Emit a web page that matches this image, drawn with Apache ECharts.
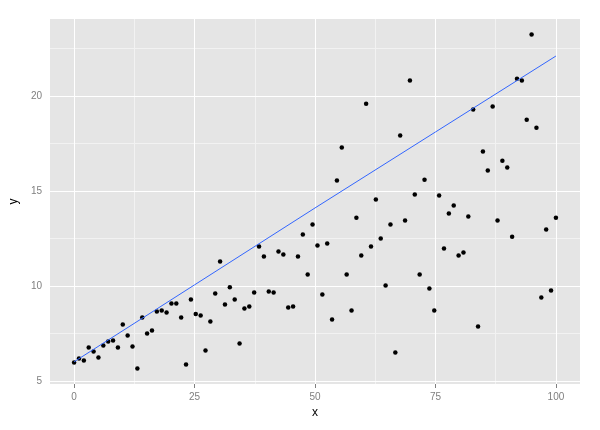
<!DOCTYPE html>
<html>
<head>
<meta charset="utf-8">
<script src="https://cdn.jsdelivr.net/npm/echarts@6/dist/echarts.min.js"></script>
<style>
html,body{margin:0;padding:0;background:#fff;}
#chart{width:600px;height:430px;}
</style>
</head>
<body>
<div id="chart"></div>
<script>
// ---- data ----
const xValues = [0, 1.01, 2.02, 3.03, 4.04, 5.05, 6.06, 7.07, 8.08, 9.09,
  10.10, 11.11, 12.12, 13.13, 14.14, 15.15, 16.16, 17.17, 18.18, 19.19,
  20.20, 21.21, 22.22, 23.23, 24.24, 25.25, 26.26, 27.27, 28.28, 29.29,
  30.30, 31.31, 32.32, 33.33, 34.34, 35.35, 36.36, 37.37, 38.38, 39.39,
  40.40, 41.41, 42.42, 43.43, 44.44, 45.45, 46.46, 47.47, 48.48, 49.49,
  50.51, 51.52, 52.53, 53.54, 54.55, 55.56, 56.57, 57.58, 58.59, 59.60,
  60.61, 61.62, 62.63, 63.64, 64.65, 65.66, 66.67, 67.68, 68.69, 69.70,
  70.71, 71.72, 72.73, 73.74, 74.75, 75.76, 76.77, 77.78, 78.79, 79.80,
  80.81, 81.82, 82.83, 83.84, 84.85, 85.86, 86.87, 87.88, 88.89, 89.90,
  90.91, 91.92, 92.93, 93.94, 94.95, 95.96, 96.97, 97.98, 98.99, 100];
const yValues = [5.96, 6.17, 6.07, 6.75, 6.54, 6.23, 6.86, 7.07, 7.12, 6.75,
  7.96, 7.38, 6.81, 5.65, 8.33, 7.49, 7.65, 8.65, 8.70, 8.59,
  9.07, 9.07, 8.33, 5.86, 9.28, 8.51, 8.44, 6.59, 8.12, 9.59,
  11.28, 9.02, 9.93, 9.28, 6.96, 8.81, 8.91, 9.65, 12.07, 11.54,
  9.70, 9.65, 11.81, 11.65, 8.86, 8.91, 11.54, 12.70, 10.59, 13.23,
  12.12, 9.54, 12.23, 8.23, 15.54, 17.28, 10.59, 8.70, 13.59, 11.59,
  19.59, 12.07, 14.54, 12.49, 10.02, 13.23, 6.49, 17.91, 13.44, 20.81,
  14.81, 10.59, 15.59, 9.86, 8.70, 14.75, 11.96, 13.81, 14.23, 11.59,
  11.75, 13.65, 19.28, 7.86, 17.07, 16.07, 19.44, 13.44, 16.59, 16.23,
  12.59, 20.91, 20.81, 18.75, 23.23, 18.33, 9.38, 12.96, 9.75, 13.59];
const lineX = [0, 25, 50, 75, 100];
const lineY = [6.0, 10.05, 14.1, 18.1, 22.1];
const xTicks = [0, 25, 50, 75, 100];
const xMinor = [12.5, 37.5, 62.5, 87.5];
const yTicks = [5, 10, 15, 20];
const yMinor = [7.5, 12.5, 17.5, 22.5];
const xRange = [-5, 105];
const yRange = [4.83, 24.05];

const points = xValues.map((x, i) => [x, yValues[i]]);
const linePts = lineX.map((x, i) => [x, lineY[i]]);

function gridLines(xs, ys) {
  return xs.map(v => ({ xAxis: v })).concat(ys.map(v => ({ yAxis: v })));
}

const chart = echarts.init(document.getElementById('chart'), null, { renderer: 'canvas' });
const axisFont = 'Liberation Sans, Arial, sans-serif';
chart.setOption({
  animation: false,
  backgroundColor: '#ffffff',
  grid: {
    left: 48, right: 20, top: 19, bottom: 46,
    show: true, backgroundColor: '#e5e5e5', borderWidth: 0
  },
  xAxis: {
    type: 'value', min: xRange[0], max: xRange[1],
    name: 'x', nameLocation: 'middle', nameGap: 22,
    nameTextStyle: { color: '#000', fontSize: 12, fontFamily: axisFont },
    axisLine: { show: false },
    axisTick: { show: true, inside: false, length: 4, customValues: xTicks, lineStyle: { color: '#7f7f7f', width: 1 } },
    axisLabel: { customValues: xTicks, color: '#7f7f7f', fontSize: 10, margin: 8, fontFamily: axisFont },
    splitLine: { show: false }
  },
  yAxis: {
    type: 'value', min: yRange[0], max: yRange[1],
    name: 'y', nameLocation: 'middle', nameGap: 21, nameRotate: 90,
    nameTextStyle: { color: '#000', fontSize: 12, fontFamily: axisFont },
    axisLine: { show: false },
    axisTick: { show: true, inside: false, length: 4, customValues: yTicks, lineStyle: { color: '#7f7f7f', width: 1 } },
    axisLabel: { customValues: yTicks, color: '#7f7f7f', fontSize: 10, margin: 8, fontFamily: axisFont },
    splitLine: { show: false }
  },
  series: [
    {
      type: 'scatter', data: [], silent: true, z: 1,
      markLine: {
        silent: true, symbol: 'none', label: { show: false }, animation: false, z: 1,
        lineStyle: { color: '#f2f2f2', width: 1, type: 'solid' },
        emphasis: { disabled: true },
        data: gridLines(xMinor, yMinor)
      }
    },
    {
      type: 'scatter', data: [], silent: true, z: 2,
      markLine: {
        silent: true, symbol: 'none', label: { show: false }, animation: false, z: 2,
        lineStyle: { color: '#ffffff', width: 1, type: 'solid' },
        emphasis: { disabled: true },
        data: gridLines(xTicks, yTicks)
      }
    },
    {
      type: 'scatter', data: points, z: 4, symbol: 'circle', symbolSize: 4.5,
      itemStyle: { color: '#000000', opacity: 1 }, silent: true
    },
    {
      type: 'line', data: linePts, z: 5, showSymbol: false, symbol: 'none',
      lineStyle: { color: '#3366ff', width: 1 }, silent: true
    }
  ]
});
</script>
</body>
</html>
